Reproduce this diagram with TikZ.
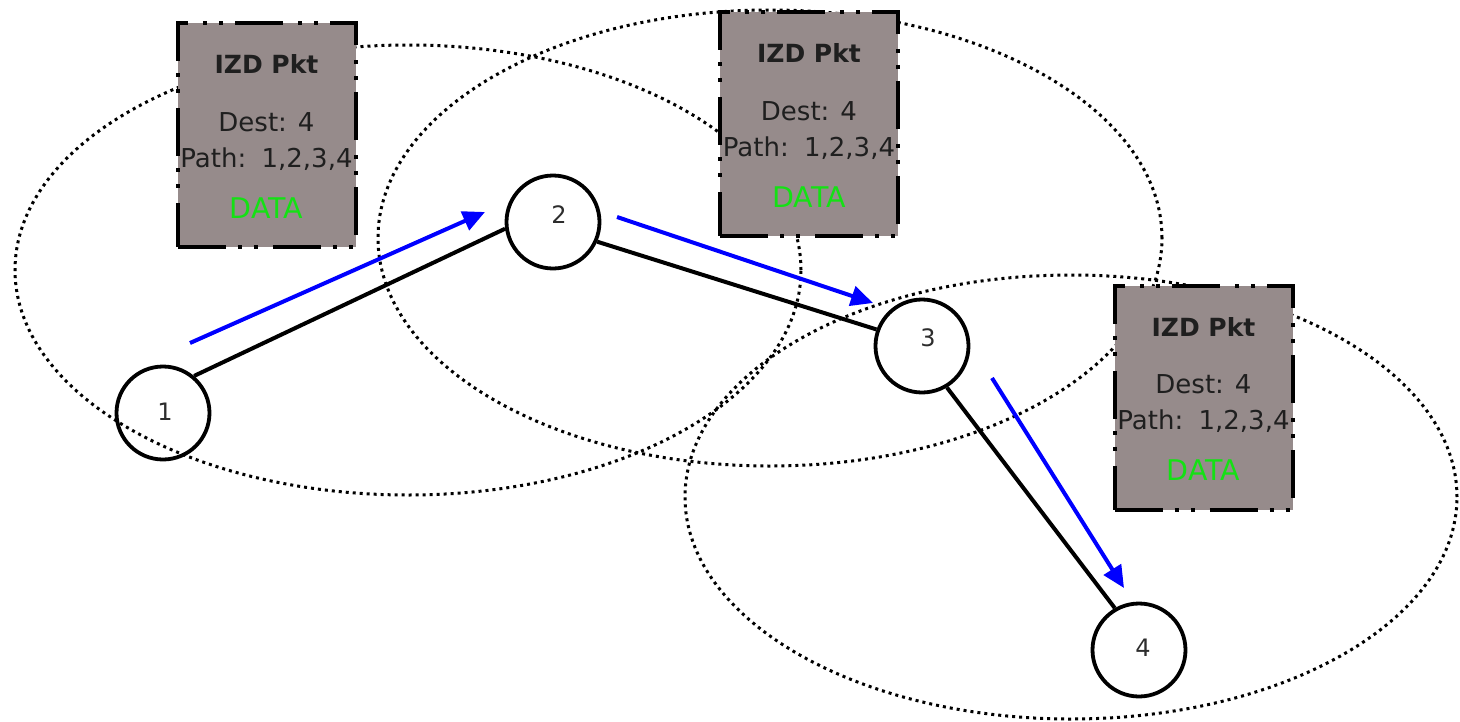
\documentclass[tikz,border=0pt]{standalone}
\usepackage{fontspec}
\setmainfont{DejaVu Sans}
\usetikzlibrary{arrows.meta,calc}
\definecolor{boxgray}{RGB}{150,139,139}
\definecolor{datagreen}{RGB}{20,225,20}
\definecolor{labgray}{RGB}{45,45,45}
\begin{document}
\begin{tikzpicture}[x=1pt,y=-1pt,
  zone/.style={draw, line width=3pt, dash pattern=on 3pt off 4pt},
  pkt/.style={draw, fill=boxgray, line width=4pt,
    dash pattern=on 48pt off 12pt on 4pt off 12pt on 4pt off 15pt,
    minimum width=178pt, minimum height=224pt, inner sep=0pt},
  host/.style={circle, draw, line width=3.8pt, minimum size=93pt, inner sep=0pt},
  hostlab/.style={font=\fontsize{24}{28}\selectfont, text=labgray, inner sep=0pt},
  link/.style={line width=4pt},
  flow/.style={line width=4pt, blue, -{Triangle[length=22pt,width=20pt]}},
  title/.style={font=\bfseries\fontsize{25}{28}\selectfont, text=black!88, inner sep=0pt},
  info/.style={font=\fontsize{26}{28}\selectfont, text=black!88, inner sep=0pt},
  data/.style={font=\fontsize{28.5}{30}\selectfont, text=datagreen, inner sep=0pt}]
\useasboundingbox (0,0) rectangle (1460,721);

% coverage zones
\draw[zone] (408,270) ellipse [x radius=393pt, y radius=225pt];
\draw[zone] (770,238) ellipse [x radius=392pt, y radius=228pt];
\draw[zone] (1071,497) ellipse [x radius=386pt, y radius=222pt];

% packets
\foreach \b/\x/\y in {b1/266.5/135, b2/809/124, b3/1203.5/397.5}{
  \node[pkt] (\b) at (\x,\y) {};
  \node[title] (\b t) at ($(\b.north)+(0,43)$) {IZD Pkt};
  \node[info]  (\b d) at ($(\b.north)+(0,101)$) {Dest: 4};
  \node[info]  (\b p) at ($(\b.north)+(0,138)$) {Path:\, 1,2,3,4};
  \node[data]  (\b x) at ($(\b.north)+(0,187)$) {DATA};
}

% hosts
\node[host] (n1) at (163,413) {};
\node[host] (n2) at (553,222) {};
\node[host] (n3) at (922,346) {};
\node[host] (n4) at (1139,650) {};
\node[hostlab] (l1) at ($(n1)+(2,-1)$) {1};
\node[hostlab] (l2) at ($(n2)+(6,-7)$) {2};
\node[hostlab] (l3) at ($(n3)+(6,-8)$) {3};
\node[hostlab] (l4) at ($(n4)+(4,-2)$) {4};

% links
\draw[link] (n1.50) -- (n2.188);
\draw[link] (n2.336) -- (n3.160);
\draw[link] (n3.301) -- (n4.120);

% flow arrows
\coordinate (a1s) at (190,343);
\coordinate (a1e) at (485,212);
\coordinate (a2s) at (617,217);
\coordinate (a2e) at (873,303);
\coordinate (a3s) at (992,378);
\coordinate (a3e) at (1124,588);
\draw[flow] (a1s) -- (a1e);
\draw[flow] (a2s) -- (a2e);
\draw[flow] (a3s) -- (a3e);
\end{tikzpicture}
\end{document}
